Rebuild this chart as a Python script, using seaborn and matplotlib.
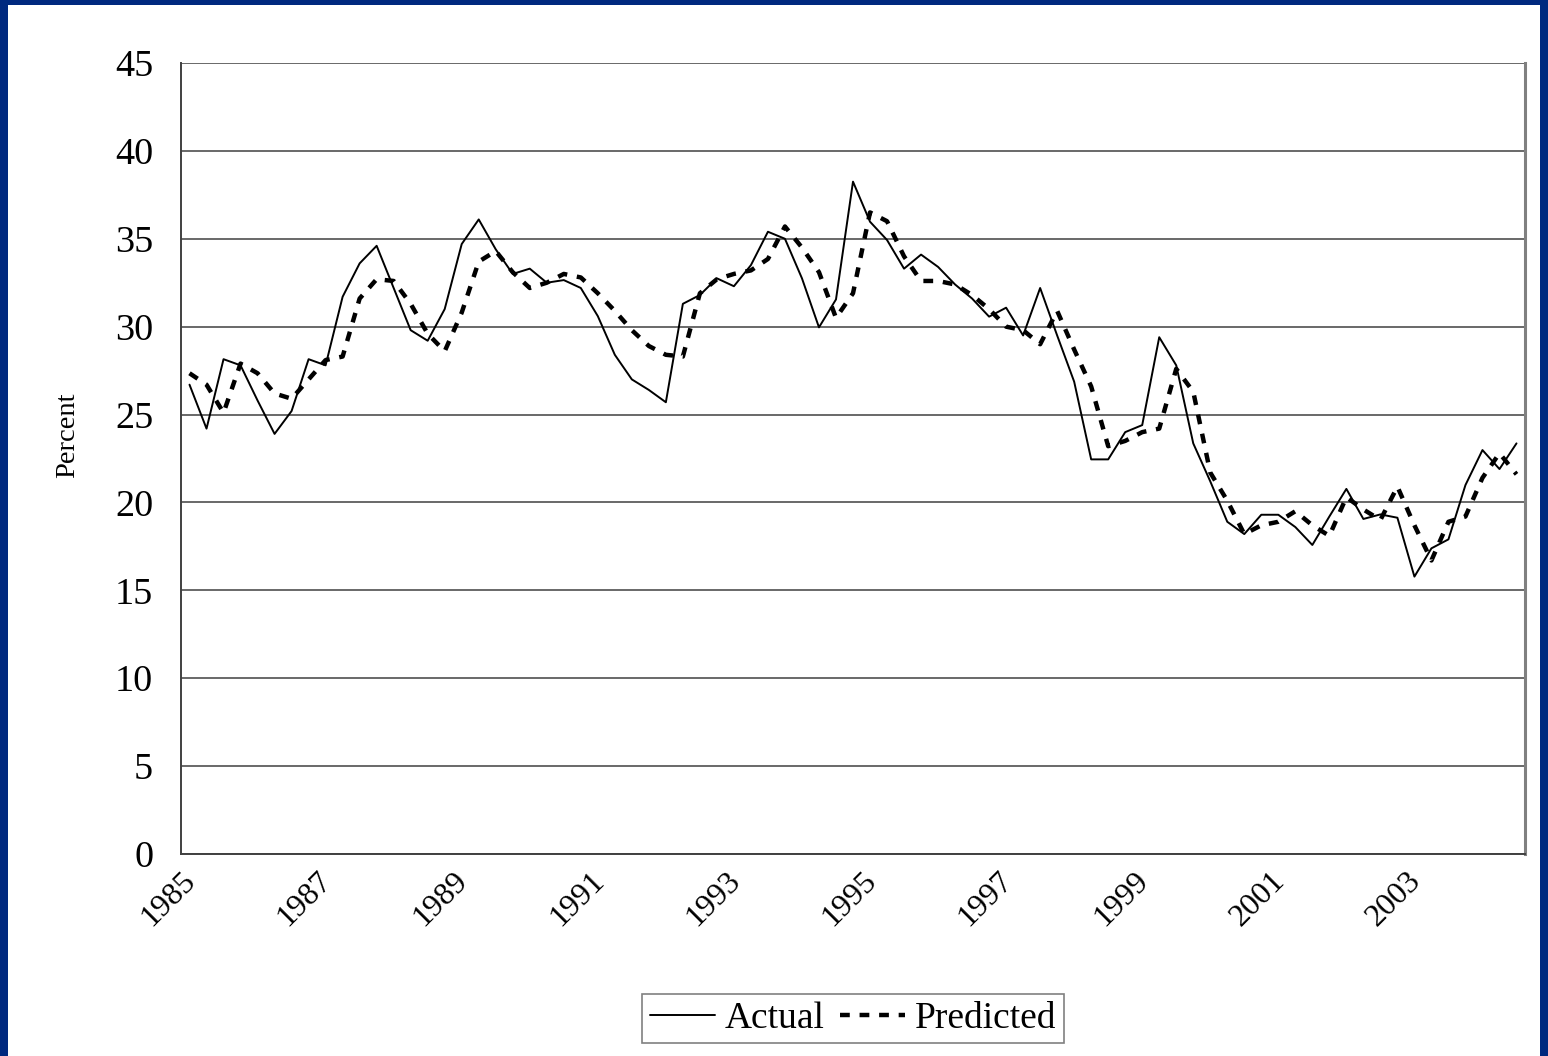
import matplotlib
matplotlib.use("Agg")
import matplotlib.pyplot as plt
import matplotlib.patches as mpatches
import seaborn as sns
import pandas as pd
import numpy as np

# quarterly observations, 1985Q1 - 2004Q3
actual = [26.7, 24.2, 28.15, 27.8, 25.8, 23.9, 25.2, 28.15, 27.8, 31.7,
          33.6, 34.6, 32.2, 29.8, 29.2, 31.0, 34.7, 36.1, 34.4, 33.0,
          33.3, 32.5, 32.65, 32.2, 30.6, 28.4, 27.0, 26.4, 25.7, 31.3,
          31.8, 32.75, 32.3, 33.5, 35.4, 35.0, 32.75, 29.96, 31.55, 38.25,
          35.97, 34.93, 33.3, 34.1, 33.4, 32.4, 31.6, 30.57, 31.08, 29.5,
          32.2, 29.5, 26.87, 22.45, 22.45, 24.0, 24.4, 29.4, 27.8, 23.36,
          21.2, 18.9, 18.2, 19.3, 19.3, 18.6, 17.58, 19.2, 20.77, 19.06,
          19.32, 19.13, 15.78, 17.39, 17.9, 20.99, 22.98, 21.9, 23.36]

predicted = [27.35, 26.7, 25.1, 27.9, 27.35, 26.2, 25.9, 27.0, 28.1, 28.3,
             31.6, 32.7, 32.6, 31.3, 29.6, 28.6, 30.8, 33.7, 34.3, 33.1,
             32.2, 32.5, 33.0, 32.8, 31.9, 30.9, 29.8, 28.9, 28.4, 28.3,
             31.9, 32.7, 33.0, 33.2, 33.85, 35.7, 34.5, 33.1, 30.5, 31.9,
             36.5, 36.0, 34.0, 32.6, 32.6, 32.4, 31.8, 31.0, 30.0, 29.8,
             29.0, 30.9, 28.7, 26.6, 23.2, 23.5, 24.0, 24.2, 27.6, 26.3,
             21.7, 20.1, 18.2, 18.7, 18.9, 19.5, 18.7, 18.1, 20.3, 19.6,
             19.0, 20.9, 18.7, 16.7, 18.9, 19.2, 21.4, 22.8, 21.6]

first_year = 1985
n_years = 20
y_ticks = list(range(0, 50, 5))

navy = "#00297f"

sns.set_style("white")
plt.rcParams["font.family"] = ["Liberation Serif", "DejaVu Serif"]
plt.rcParams["text.color"] = "black"

df = pd.DataFrame({"q": np.arange(len(actual)), "Actual": actual, "Predicted": predicted})

fig = plt.figure(figsize=(15.48, 10.56), dpi=100)
fig.patch.set_facecolor(navy)
fig.patches.append(mpatches.Rectangle((8 / 1548, 0), 1532 / 1548, 1051 / 1056,
                                      transform=fig.transFigure, facecolor="white",
                                      edgecolor="none", zorder=-1))

ax = fig.add_axes([181 / 1548, 1 - 854 / 1056, 1344 / 1548, 791 / 1056])
ax.set_facecolor("white")
ax.set_zorder(2)

sns.lineplot(data=df, x="q", y="Actual", ax=ax, color="black", linewidth=1.4,
             label="Actual")
sns.lineplot(data=df, x="q", y="Predicted", ax=ax, color="black", linewidth=3.2,
             linestyle=(0, (2.2, 2.2)), label="Predicted")

ax.set_xlim(-0.5, len(actual) - 0.5)
ax.set_ylim(0, 45)
ax.set_yticks(y_ticks)
ax.set_yticklabels([str(v) for v in y_ticks], fontsize=27.5)

tick_pos = [-0.5 + 4 * k for k in range(n_years)]
tick_lab = [str(first_year + k) if k % 2 == 0 else "" for k in range(n_years)]
ax.set_xticks(tick_pos)
ax.set_xticklabels(tick_lab, fontsize=23, rotation=45, ha="right",
                   rotation_mode="anchor")

ax.tick_params(axis="y", direction="out", length=9, width=1.2, color="#404040",
               pad=11, labelcolor="black")
ax.tick_params(axis="x", direction="inout", length=16, width=1.2, color="#404040",
               pad=1, labelcolor="black")

ax.grid(axis="y", color="#404040", linewidth=1.1)
ax.grid(axis="x", visible=False)
ax.set_axisbelow(True)

for side in ["left", "bottom"]:
    ax.spines[side].set_color("#404040")
    ax.spines[side].set_linewidth(1.4)
ax.spines["right"].set_color("#808080")
ax.spines["right"].set_linewidth(2.2)
ax.spines["top"].set_visible(False)

ax.set_xlabel("")
ax.set_ylabel("Percent", fontsize=20.5, color="black")
ax.yaxis.set_label_coords(-0.075, 0.53)

leg = ax.legend(loc="center", bbox_to_anchor=(0.5, -0.208), ncol=2, fontsize=27,
                frameon=True, fancybox=False, edgecolor="#606060",
                handlelength=1.75, handletextpad=0.25, columnspacing=0.4,
                borderpad=0.2, borderaxespad=0)
leg.get_frame().set_linewidth(1.2)

fig.savefig("out.png", dpi=100, facecolor=fig.get_facecolor())
